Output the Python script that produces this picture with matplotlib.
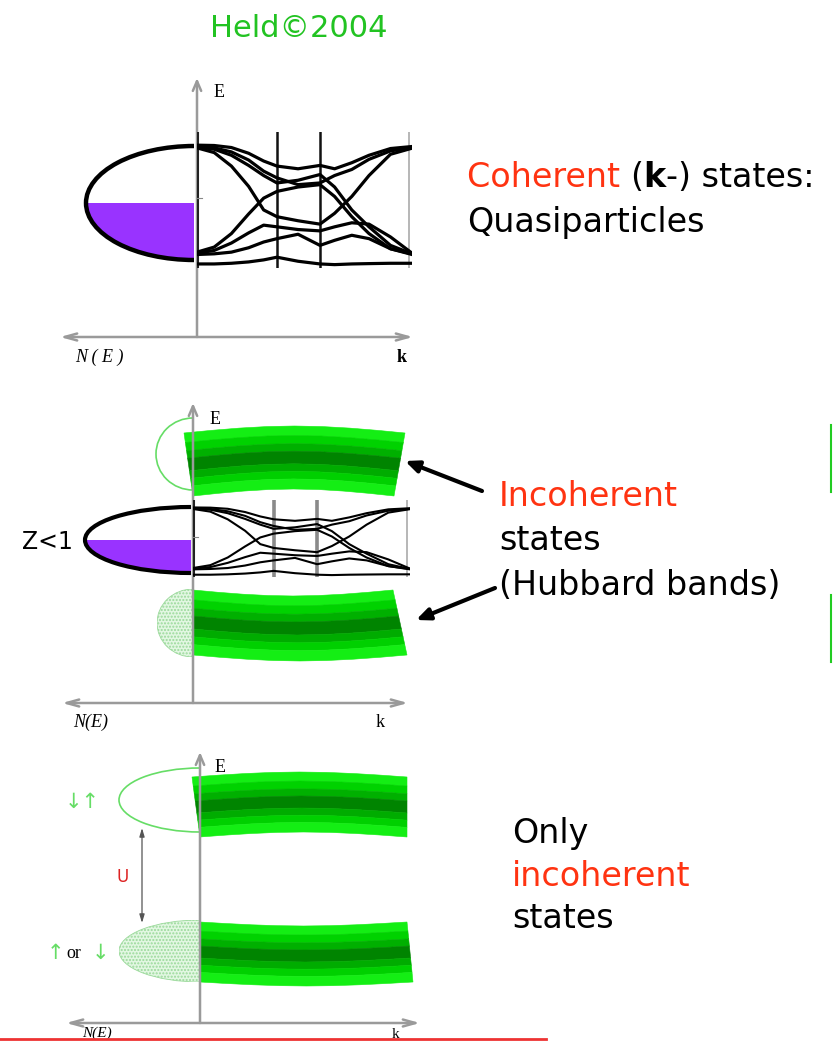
import matplotlib.pyplot as plt
from matplotlib.patches import Ellipse, Arc, Rectangle, Polygon

W, H = 837, 1041
SANS = ['DejaVu Sans']
SERIF = ['Liberation Serif', 'DejaVu Serif']

# k-path samples and high-symmetry nodes of the band sketch
k = [0.0, 0.08, 0.16, 0.24, 0.31, 0.372, 0.47, 0.572, 0.64, 0.72, 0.8, 0.9, 1.0]
k_nodes = [0.0, 0.372, 0.572, 0.986]

# quasiparticle bands E(k), arbitrary units
bands = [
    [176, 175, 169, 152, 129, 114, 106, 116, 106, 124, 146, 166, 172],
    [171, 164, 146, 116, 86, 64, 72, 89, 52, -16, -66, -121, -146],
    [173, 168, 156, 132, 99, 79, 59, 64, 86, 104, 134, 159, 169],
    [168, 154, 114, 54, -16, -36, -48, -58, -26, 24, 86, 149, 167],
    [-141, -126, -86, -28, 19, 39, 52, 59, 24, -36, -86, -131, -146],
    [-144, -136, -114, -84, -61, -66, -74, -78, -66, -54, -58, -96, -144],
    [-148, -146, -141, -128, -111, -101, -88, -121, -106, -91, -101, -131, -148],
    [-176, -176, -174, -170, -164, -156, -168, -176, -178, -176, -175, -174, -174],
]

# Hubbard band: dispersion across the zone and shading stripes
hub_disp = [0.0, 0.38, 0.7, 0.92, 1.0, 0.92, 0.7, 0.38, 0.0]
stripe_edges = [0, 0.15, 0.28, 0.40, 0.60, 0.72, 0.84, 1.0]
stripe_cols = ['#14ee14', '#00d200', '#00b000', '#008400', '#00ac00', '#00d000', '#14ee14']

GREY = '#9a9a9a'
PURPLE = '#9933ff'
LIGHT = '#66dd66'
RED = '#ff3311'
FS = 24

fig = plt.figure(figsize=(W / 100, H / 100), dpi=100)
ax = fig.add_axes([0, 0, 1, 1])
ax.set_xlim(0, W)
ax.set_ylim(H, 0)
ax.axis('off')


def axes_cross(x0, ytop, ybot, xl, xr):
    ax.annotate('', xy=(x0, ytop), xytext=(x0, ybot), zorder=6,
                arrowprops=dict(arrowstyle='->,head_length=0.7,head_width=0.3',
                                color=GREY, lw=1.8, shrinkA=0, shrinkB=0))
    ax.annotate('', xy=(xl, ybot), xytext=(xr, ybot), zorder=6,
                arrowprops=dict(arrowstyle='<->,head_length=0.9,head_width=0.25',
                                color=GREY, lw=1.8, shrinkA=0, shrinkB=0))


def band_box(x0, y0, x1, y1, lw, node_col, node_lw):
    bx = fig.add_axes([x0 / W, 1 - y1 / H, (x1 - x0) / W, (y1 - y0) / H])
    bx.set_xlim(0, 1)
    bx.set_ylim(-188, 215)
    bx.axis('off')
    bx.patch.set_visible(True)
    bx.set_facecolor('white')
    for kn, c, w in zip(k_nodes, ['#222222', node_col, node_col, '#aaaaaa'],
                        [2.2, node_lw, node_lw, 1.2]):
        bx.axvline(kn, color=c, lw=w)
    bx.plot([0, 0.025], [20, 20], color='#888888', lw=0.8)
    for b in bands:
        bx.plot(k, b, color='black', lw=lw, solid_joinstyle='round')
    return bx


def dos_half(cx, cy, a, b, lw):
    e = Ellipse((cx, cy), 2 * a, 2 * b, fc=PURPLE, ec='none', zorder=3)
    ax.add_patch(e)
    e.set_clip_path(Rectangle((cx - a, cy), a, b, transform=ax.transData))
    ax.add_patch(Arc((cx, cy), 2 * a, 2 * b, theta1=90, theta2=270,
                     color='black', lw=lw, zorder=4))


def hubbard(xl, xr, y0, h, bow):
    n = len(hub_disp)

    def edge(f):
        a = xl[0] + f * (xl[1] - xl[0])
        b = xr[0] + f * (xr[1] - xr[0])
        xs = [a + (b - a) * i / (n - 1) for i in range(n)]
        ys = [y0 + f * h - bow * d for d in hub_disp]
        return list(zip(xs, ys))

    for j, c in enumerate(stripe_cols):
        pts = edge(stripe_edges[j]) + edge(stripe_edges[j + 1])[::-1]
        ax.add_patch(Polygon(pts, closed=True, fc=c, ec=c, lw=0.4, zorder=2))


def hub_dos(cx, cy, a, b, filled):
    if filled:
        e = Ellipse((cx, cy), 2 * a, 2 * b, fc='#e2f7e2', ec='#9ad99a',
                    hatch='.....', lw=0.6, zorder=2)
        ax.add_patch(e)
        e.set_clip_path(Rectangle((cx - a, cy - b), a, 2 * b, transform=ax.transData))
    else:
        ax.add_patch(Arc((cx, cy), 2 * a, 2 * b, theta1=90, theta2=270,
                         color=LIGHT, lw=1.2, zorder=2))


def text_runs(x, y, parts, size):
    s, c, w = parts[0]
    t = ax.text(x, y, s, color=c, fontsize=size, fontweight=w, family=SANS,
                va='baseline', ha='left')
    for s, c, w in parts[1:]:
        t = ax.annotate(s, xy=(1, 0), xycoords=t, va='bottom', ha='left',
                        color=c, fontsize=size, fontweight=w, family=SANS)


ax.text(210, 37, 'Held\u00a92004', color='#22c322', fontsize=22, family=SANS,
        va='baseline')

# ---- panel 1: coherent quasiparticles
axes_cross(197, 78, 337, 60, 413)
dos_half(194, 203, 108, 57, 3.2)
band_box(197, 132, 412, 268, 2.3, '#111111', 1.8)
ax.text(214, 97, 'E', family=SERIF, fontsize=13, va='baseline')
ax.text(75, 362, 'N ( E )', family=SERIF, style='italic', fontsize=13, va='baseline')
ax.text(397, 362, 'k', family=SERIF, fontweight='bold', fontsize=13, va='baseline')
text_runs(467, 187, [('Coherent ', RED, 'normal'), ('(', 'black', 'normal'),
                     ('k', 'black', 'bold'), ('-) states:', 'black', 'normal')], FS)
text_runs(467, 232, [('Quasiparticles', 'black', 'normal')], FS)

# ---- panel 2: quasiparticle peak plus Hubbard bands
hubbard((184, 193), (405, 394), 433, 63, 7)
hubbard((193, 193), (393, 407), 590, 65, -6)
hub_dos(193, 454, 37, 36, False)
hub_dos(193, 623, 36, 34, True)
axes_cross(193, 403, 703, 62, 408)
dos_half(191, 540, 106, 33, 3.0)
band_box(193, 500, 410, 577, 1.5, '#8a8a8a', 2.6)
ax.text(210, 424, 'E', family=SERIF, fontsize=13, va='baseline')
ax.text(73, 727, 'N(E)', family=SERIF, style='italic', fontsize=13, va='baseline')
ax.text(376, 727, 'k', family=SERIF, fontsize=13, va='baseline')
ax.text(22, 549, 'Z<1', family=SANS, fontsize=17, va='baseline')
for tail, head in [((482, 491), (405, 461)), ((495, 588), (416, 620))]:
    ax.annotate('', xy=head, xytext=tail, zorder=7,
                arrowprops=dict(arrowstyle='-|>,head_length=0.8,head_width=0.35',
                                color='black', lw=3, shrinkA=0, shrinkB=0))
text_runs(499, 506, [('Incoherent', RED, 'normal')], FS)
text_runs(499, 550, [('states', 'black', 'normal')], FS)
text_runs(499, 595, [('(Hubbard bands)', 'black', 'normal')], FS)

# ---- panel 3: Mott insulator, Hubbard bands only
hubbard((192, 200), (407, 407), 777, 60, 5)
hubbard((200, 200), (407, 413), 922, 60, -4)
hub_dos(200, 800, 81, 32, False)
hub_dos(200, 951, 81, 31, True)
axes_cross(200, 752, 1023, 66, 420)
ax.text(215, 772, 'E', family=SERIF, fontsize=13, va='baseline')
ax.annotate('', xy=(142, 828), xytext=(142, 923),
            arrowprops=dict(arrowstyle='<|-|>,head_length=0.5,head_width=0.15',
                            color='#555555', lw=0.9, shrinkA=0, shrinkB=0))
ax.text(123, 882, 'U', color='#dd2222', family=SANS, fontsize=12, ha='center',
        va='baseline')
ax.text(82, 802, '\u2193\u2191', color=LIGHT, family=SANS, fontsize=15,
        ha='center', va='center')
ax.text(55, 953, '\u2191', color=LIGHT, family=SANS, fontsize=15,
        ha='center', va='center')
ax.text(74, 958, 'or', family=SERIF, fontsize=13, ha='center', va='baseline')
ax.text(100, 953, '\u2193', color=LIGHT, family=SANS, fontsize=15,
        ha='center', va='center')
ax.text(82, 1040.5, 'N(E)', family=SERIF, style='italic', fontsize=11, va='bottom')
ax.text(392, 1040.5, 'k', family=SERIF, fontsize=11, va='bottom')
text_runs(512, 843, [('Only', 'black', 'normal')], FS)
text_runs(512, 886, [('incoherent', RED, 'normal')], FS)
text_runs(512, 928, [('states', 'black', 'normal')], FS)

# clipped neighbouring frame at the right and footer rule
ax.plot([831, 831], [425, 492], color='#22cc22', lw=1.5)
ax.plot([831, 831], [595, 662], color='#22cc22', lw=1.5)
ax.plot([0, 546], [1039, 1039], color='#ee3333', lw=2, zorder=8)

fig.savefig('out.png', dpi=100)
